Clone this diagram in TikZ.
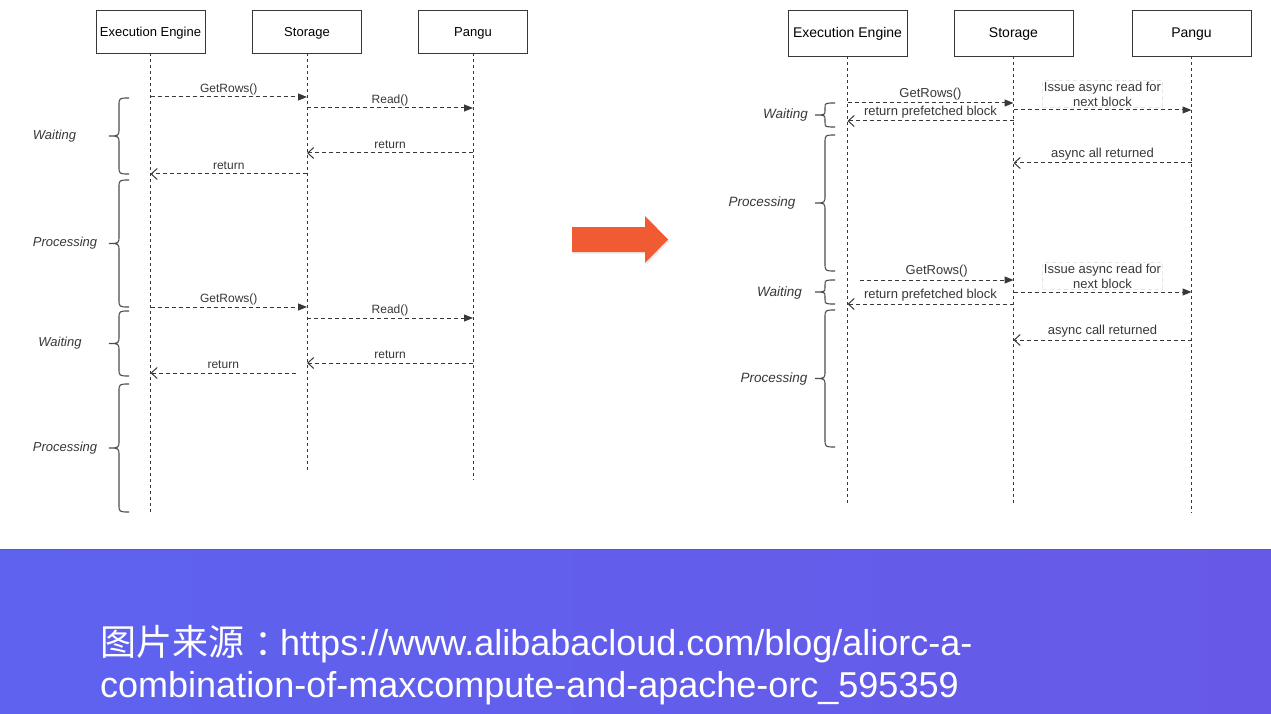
\documentclass[tikz,border=0pt]{standalone}
\usepackage{fontspec}
\setmainfont{Liberation Sans}
\newfontfamily\cjk{Noto Sans CJK SC}
\usetikzlibrary{arrows.meta}
\definecolor{ln}{HTML}{383838}
\definecolor{org}{HTML}{F15B33}
\definecolor{bnL}{RGB}{93,99,239}
\definecolor{bnR}{RGB}{103,89,231}
\tikzset{
  actorL/.style={draw=ln, line width=0.9pt, fill=white, minimum width=109pt, minimum height=43pt, inner sep=0pt, text height=9.5pt, text depth=0pt, font=\fontsize{13}{15}\selectfont},
  actorR/.style={draw=ln, line width=0.9pt, fill=white, minimum width=119pt, minimum height=46pt, inner sep=0pt, text height=10pt, text depth=0pt, font=\fontsize{14}{16}\selectfont},
  life/.style={draw=ln, line width=0.8pt, dash pattern=on 3pt off 3pt},
  call/.style={draw=ln, line width=1pt, dash pattern=on 4pt off 3pt, -{Triangle[length=9pt,width=7pt]}},
  ret/.style={draw=ln, line width=1pt, dash pattern=on 4pt off 3pt, -{Straight Barb[length=6pt,width=11pt]}},
  lblL/.style={fill=white, inner sep=1pt, text=ln, font=\fontsize{12}{14}\selectfont},
  lblR/.style={fill=white, inner sep=1pt, text=ln, font=\fontsize{13}{15}\selectfont},
  phase/.style={text=ln, font=\fontsize{13}{15}\selectfont\itshape},
  brc/.style={draw=ln!90, line width=1.1pt},
}
\newcommand{\cbr}[4]{%
  \draw[brc] ({#1+20},#2) .. controls ({#1+10},#2) .. ({#1+10},{#2+#4})
   -- ({#1+10},{(#2+#3)/2-#4}) .. controls ({#1+10},{(#2+#3)/2}) .. (#1,{(#2+#3)/2})
   .. controls ({#1+10},{(#2+#3)/2}) .. ({#1+10},{(#2+#3)/2+#4})
   -- ({#1+10},{#3-#4}) .. controls ({#1+10},#3) .. ({#1+20},#3);}
\begin{document}
\begin{tikzpicture}[x=1pt,y=-1pt]
\useasboundingbox (0,0) rectangle (1271,714);
\fill[white] (0,0) rectangle (1271,714);

% ---------------- left diagram ----------------
\node[actorL] (lee) at (150.5,31.5) {Execution Engine};
\node[actorL] (lst) at (307,31.5) {Storage};
\node[actorL] (lpg) at (473,31.5) {Pangu};
\coordinate (leeE) at (150.5,513);
\coordinate (lstE) at (307,473);
\coordinate (lpgE) at (473,480);
\draw[life] (lee.south) -- (leeE);
\draw[life] (lst.south) -- (lstE);
\draw[life] (lpg.south) -- (lpgE);

\draw[call] (lee |- 0,97) -- node[lblL, yshift=8pt] {GetRows()} (lst |- 0,97);
\draw[call] (lst |- 0,108) -- node[lblL, yshift=8pt] {Read()} (lpg |- 0,108);
\draw[ret] (lpg |- 0,153) -- node[lblL, yshift=8pt] {return} (lst |- 0,153);
\draw[ret] (lst |- 0,174) -- node[lblL, yshift=8pt] {return} (lee |- 0,174);

\draw[call] (lee |- 0,307) -- node[lblL, yshift=8pt] {GetRows()} (lst |- 0,307);
\draw[call] (lst |- 0,318) -- node[lblL, yshift=8pt] {Read()} (lpg |- 0,318);
\draw[ret] (lpg |- 0,363) -- node[lblL, yshift=8pt] {return} (lst |- 0,363);
\coordinate (lr2s) at (296,373);
\draw[ret] (lr2s) -- node[lblL, yshift=8pt] {return} (lee |- lr2s);

\cbr{109}{98}{174}{8}
\cbr{109}{180}{307}{8}
\cbr{109}{311}{376}{8}
\cbr{109}{384}{512}{8}
\node[phase] (lw1) at (54.5,136) {Waiting};
\node[phase] (lp1) at (65,243) {Processing};
\node[phase] (lw2) at (60,343) {Waiting};
\node[phase] (lp2) at (65,448) {Processing};

% ---------------- arrow ----------------
\fill[black!25, opacity=0.35] (573.5,228.5) -- (646.5,228.5) -- (646.5,217.5) -- (669.5,241) -- (646.5,264.5) -- (646.5,253.5) -- (573.5,253.5) -- cycle;
\fill[org] (572,227) -- (645,227) -- (645,216) -- (668,239.5) -- (645,263) -- (645,252) -- (572,252) -- cycle;

% ---------------- right diagram ----------------
\node[actorR] (ree) at (847.5,33) {Execution Engine};
\node[actorR] (rst) at (1013.5,33) {Storage};
\node[actorR] (rpg) at (1191.5,33) {Pangu};
\coordinate (reeE) at (847.5,505);
\coordinate (rstE) at (1013.5,505);
\coordinate (rpgE) at (1191.5,513);
\draw[life] (ree.south) -- (reeE);
\draw[life] (rst.south) -- (rstE);
\draw[life] (rpg.south) -- (rpgE);

\draw[call] (ree |- 0,103) -- node[lblR, yshift=8.5pt] {GetRows()} (rst |- 0,103);
\draw[ret] (rst |- 0,121) -- node[lblR, yshift=8.5pt] {return prefetched block} (ree |- 0,121);
\draw[call] (rst |- 0,110) -- node[lblR, draw=ln!12, align=center, yshift=16pt, font=\fontsize{13}{15}\selectfont] {Issue async read for\\next block} (rpg |- 0,110);
\draw[ret] (rpg |- 0,163) -- node[lblR, yshift=9pt] {async all returned} (rst |- 0,163);

\coordinate (rg2s) at (860,280);
\draw[call] (rg2s) -- node[lblR, yshift=8.5pt] {GetRows()} (rst |- rg2s);
\draw[ret] (rst |- 0,304) -- node[lblR, yshift=8.5pt] {return prefetched block} (ree |- 0,304);
\draw[call] (rst |- 0,292) -- node[lblR, draw=ln!12, align=center, yshift=16pt, font=\fontsize{13}{15}\selectfont] {Issue async read for\\next block} (rpg |- 0,292);
\draw[ret] (rpg |- 0,340) -- node[lblR, yshift=9pt] {async call returned} (rst |- 0,340);

\cbr{815}{103}{127}{5}
\cbr{815}{135}{271}{8}
\cbr{815}{280}{304}{5}
\cbr{815}{310}{447}{8}
\node[phase, font=\fontsize{13.5}{15}\selectfont\itshape] (rw1) at (785.5,115) {Waiting};
\node[phase, font=\fontsize{13.5}{15}\selectfont\itshape] (rp1) at (762,203) {Processing};
\node[phase, font=\fontsize{13.5}{15}\selectfont\itshape] (rw2) at (779.5,293) {Waiting};
\node[phase, font=\fontsize{13.5}{15}\selectfont\itshape] (rp2) at (774,379) {Processing};

% ---------------- banner ----------------
\shade[left color=bnL, right color=bnR] (0,549) rectangle (1271,714);
\draw[gray!80!black, line width=1.5pt] (0,549.5) -- (1271,549.5);
\node[anchor=base west, inner sep=0pt, text=white, font=\fontsize{36}{42}\selectfont] (src1) at (100,655) {{\cjk 图片来源\kern10pt：\kern-10pt}https://www.alibabacloud.com/blog/aliorc-a-};
\node[anchor=base west, inner sep=0pt, text=white, font=\fontsize{36}{42}\selectfont] (src2) at (100,697) {combination-of-maxcompute-and-apache-orc\_595359};
\end{tikzpicture}
\end{document}
